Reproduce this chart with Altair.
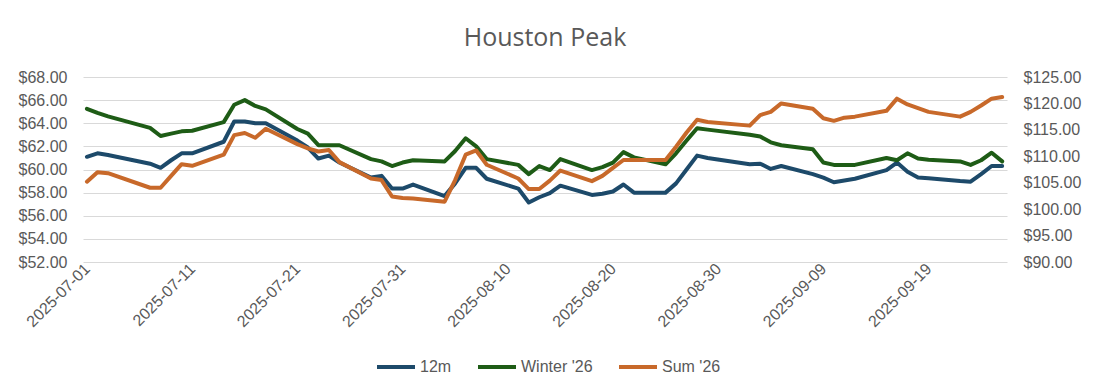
import altair as alt
import pandas as pd
from datetime import date

# ---- data ----
dates = [
    "2025-07-01", "2025-07-02", "2025-07-03", "2025-07-07", "2025-07-08", "2025-07-09",
    "2025-07-10", "2025-07-11", "2025-07-14", "2025-07-15", "2025-07-16", "2025-07-17",
    "2025-07-18", "2025-07-21", "2025-07-22", "2025-07-23", "2025-07-24", "2025-07-25",
    "2025-07-28", "2025-07-29", "2025-07-30", "2025-07-31",
    "2025-08-01", "2025-08-04", "2025-08-05", "2025-08-06", "2025-08-07", "2025-08-08",
    "2025-08-11", "2025-08-12", "2025-08-13", "2025-08-14", "2025-08-15", "2025-08-18",
    "2025-08-19", "2025-08-20", "2025-08-21", "2025-08-22", "2025-08-25", "2025-08-26",
    "2025-08-27", "2025-08-28", "2025-08-29",
    "2025-09-02", "2025-09-03", "2025-09-04", "2025-09-05", "2025-09-08", "2025-09-09",
    "2025-09-10", "2025-09-11", "2025-09-12", "2025-09-15", "2025-09-16", "2025-09-17",
    "2025-09-18", "2025-09-19", "2025-09-22", "2025-09-23", "2025-09-24", "2025-09-25",
    "2025-09-26",
]

m12 = [
    61.1, 61.4, 61.25, 60.5, 60.15, 60.8, 61.4, 61.4, 62.4, 64.15, 64.15, 64.0,
    64.0, 62.5, 61.9, 60.95, 61.2, 60.6, 59.3, 59.45, 58.35, 58.35,
    58.7, 57.7, 58.8, 60.15, 60.15, 59.2, 58.35, 57.15, 57.6, 57.95, 58.6, 57.8,
    57.9, 58.1, 58.7, 58.0, 58.0, 58.8, 60.0, 61.2, 61.0,
    60.45, 60.5, 60.05, 60.3, 59.6, 59.3, 58.9, 59.05, 59.2, 59.95, 60.6, 59.8,
    59.3, 59.25, 59.0, 58.95, 59.6, 60.3, 60.3,
]

winter26 = [
    65.25, 64.9, 64.6, 63.6, 62.9, 63.1, 63.3, 63.35, 64.1, 65.6, 66.0, 65.5,
    65.2, 63.5, 63.1, 62.1, 62.1, 62.1, 60.9, 60.7, 60.3, 60.6,
    60.8, 60.7, 61.6, 62.7, 62.0, 60.9, 60.4, 59.6, 60.3, 59.95, 60.9, 59.95,
    60.2, 60.6, 61.5, 61.05, 60.45, 61.4, 62.5, 63.57, 63.45,
    63.0, 62.85, 62.35, 62.1, 61.75, 60.6, 60.4, 60.4, 60.4, 61.0, 60.8, 61.4,
    60.95, 60.85, 60.7, 60.4, 60.8, 61.45, 60.7,
]

sum26 = [
    105.2, 107.0, 106.8, 104.05, 104.05, 106.3, 108.5, 108.2, 110.3, 114.0, 114.4, 113.5,
    115.2, 112.3, 111.5, 110.9, 111.2, 108.9, 105.8, 105.5, 102.4, 102.1,
    102.0, 101.4, 105.5, 110.3, 111.1, 108.4, 105.8, 103.8, 103.8, 105.4, 107.3, 105.3,
    106.3, 107.8, 109.3, 109.3, 109.3, 111.8, 114.5, 116.9, 116.5,
    115.8, 117.8, 118.4, 120.0, 119.0, 117.2, 116.7, 117.3, 117.5, 118.6, 120.9, 119.8,
    119.1, 118.4, 117.5, 118.4, 119.6, 120.9, 121.2,
]

series_names = ["12m", "Winter '26", "Sum '26"]
series_colors = ["#1D4A6A", "#1E5C16", "#C8692A"]

tick_dates = ["2025-07-01", "2025-07-11", "2025-07-21", "2025-07-31", "2025-08-10",
              "2025-08-20", "2025-08-30", "2025-09-09", "2025-09-19"]
left_ticks = [52, 54, 56, 58, 60, 62, 64, 66, 68]
right_ticks = [90, 95, 100, 105, 110, 115, 120, 125]

# ---- tables ----
left_df = pd.concat([
    pd.DataFrame({"date": dates, "value": m12, "series": "12m"}),
    pd.DataFrame({"date": dates, "value": winter26, "series": "Winter '26"}),
])
right_df = pd.DataFrame({"date": dates, "value": sum26, "series": "Sum '26"})


def dt(s, hours=0):
    d = date.fromisoformat(s)
    return alt.DateTime(year=d.year, month=d.month, date=d.day, hours=hours, utc=True)


FONT = "Liberation Sans"
LABEL_COLOR = "#595959"

x_enc = alt.X(
    "date:T",
    scale=alt.Scale(type="utc", domain=[dt("2025-06-30", 15), dt("2025-09-26", 11)]),
    axis=alt.Axis(
        values=[dt(s) for s in tick_dates],
        labelExpr="utcFormat(datum.value, '%Y-%m-%d')",
        labelAngle=315,
        labelAlign="right",
        labelBaseline="middle",
        labelPadding=4,
        grid=False, domain=False, ticks=False, title=None,
        labelFontSize=16, labelColor=LABEL_COLOR, labelFont=FONT,
    ),
)

color_enc = alt.Color(
    "series:N",
    scale=alt.Scale(domain=series_names, range=series_colors),
    sort=series_names,
    legend=alt.Legend(
        orient="none", legendX=292, legendY=269, direction="horizontal",
        title=None, symbolType="stroke", symbolStrokeWidth=4, symbolSize=1444,
        labelFontSize=16, labelColor=LABEL_COLOR, labelFont=FONT,
        columnPadding=18, labelOffset=3,
    ),
)

left = alt.Chart(left_df).mark_line(strokeWidth=4, strokeJoin="round", strokeCap="round").encode(
    x=x_enc,
    y=alt.Y(
        "value:Q",
        scale=alt.Scale(domain=[52, 68], nice=False, zero=False),
        axis=alt.Axis(
            orient="left", values=left_ticks, format="$.2f", title=None,
            grid=True, gridColor="#d9d9d9", gridWidth=1, domain=False, ticks=False,
            labelPadding=16, labelFontSize=16, labelColor=LABEL_COLOR, labelFont=FONT,
        ),
    ),
    color=color_enc,
    detail="series:N",
)

right = alt.Chart(right_df).mark_line(strokeWidth=4, strokeJoin="round", strokeCap="round").encode(
    x=x_enc,
    y=alt.Y(
        "value:Q",
        scale=alt.Scale(domain=[90, 125], nice=False, zero=False),
        axis=alt.Axis(
            orient="right", values=right_ticks, format="$.2f", title=None,
            grid=False, domain=False, ticks=False,
            labelPadding=16, labelFontSize=16, labelColor=LABEL_COLOR, labelFont=FONT,
        ),
    ),
    color=color_enc,
)

chart = alt.layer(left, right).resolve_scale(y="independent").properties(
    width=924,
    height=185,
    title=alt.TitleParams(
        "Houston Peak", fontSize=25, font="Open Sans", fontWeight="normal",
        color=LABEL_COLOR, anchor="middle", offset=18,
    ),
    autosize=alt.AutoSizeParams(type="none"),
    padding={"left": 75, "top": 69, "right": 77, "bottom": 121},
).configure_view(stroke=None)

chart.save("out.html", embed_options={"renderer": "svg", "actions": False})
